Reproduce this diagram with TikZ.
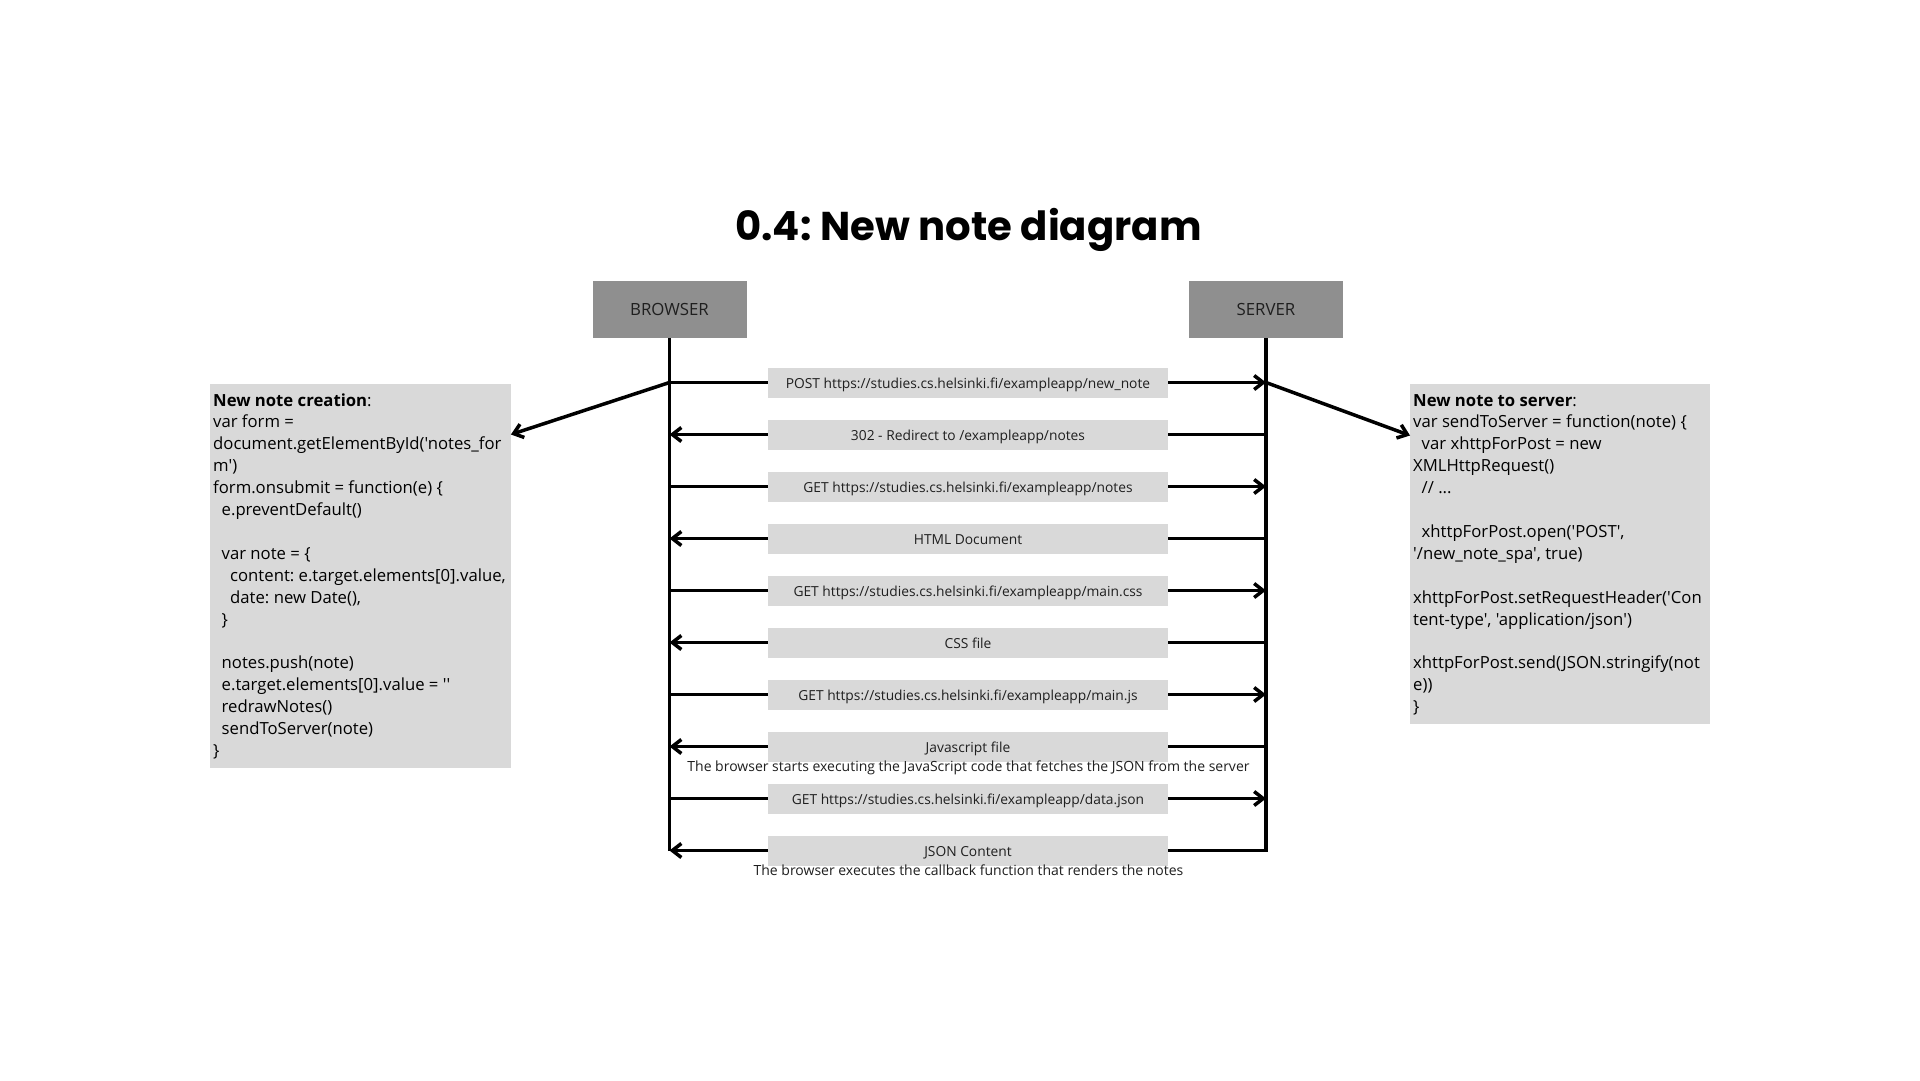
\documentclass[tikz,border=0pt]{standalone}
\usepackage{fontspec}
\setmainfont{Open Sans}[Ligatures=TeXOff]
\newfontfamily\titlefont{Poppins}
\usetikzlibrary{arrows.meta,calc}
\definecolor{hdr}{HTML}{8F8F8F}
\definecolor{lbl}{HTML}{D9D9D9}
\definecolor{txt}{HTML}{1F1F1F}
\frenchspacing
\begin{document}
\frenchspacing
\begin{tikzpicture}[x=1pt,y=-1pt,
  hdrbox/.style={fill=hdr, minimum width=154pt, minimum height=57pt, inner sep=0pt, text=txt, font=\fontsize{16.8}{19}\selectfont},
  lblbox/.style={fill=lbl, minimum width=400pt, minimum height=30pt, inner sep=0pt, text=txt, text height=14pt, text depth=2pt, font=\fontsize{13.8}{16}\selectfont},
  life/.style={line width=3.5pt, black},
  plain/.style={line width=3.5pt, black},
  msg/.style={line width=3.5pt, black, -{Straight Barb[length=9pt,width=14pt]}},
  codebox/.style={fill=lbl, anchor=north west, inner sep=0pt},
  codetext/.style={anchor=base west, inner sep=0pt, text=black, font=\fontsize{16.7}{21.9}\selectfont},
  notetext/.style={anchor=base, inner sep=0pt, text=txt, font=\fontsize{14}{16}\selectfont}
]
\useasboundingbox (0,0) rectangle (1920,1080);
\fill[white] (0,0) rectangle (1920,1080);

% title
\node[anchor=base, inner sep=0pt, text=black, font=\titlefont\fontsize{40.2}{46}\selectfont\bfseries] (title) at (968.5,240.7) {0.4: New note diagram};

% actors
\node[hdrbox] (B) at (669.5,309.3) {BROWSER};
\node[hdrbox] (S) at (1266,309.3) {SERVER};

% message labels
\node[lblbox] (m0) at (968,382.5) {POST https://studies.cs.helsinki.fi/exampleapp/new\_note};
\node[lblbox] (m1) at (968,434.5) {302 - Redirect to /exampleapp/notes};
\node[lblbox] (m2) at (968,486.5) {GET https://studies.cs.helsinki.fi/exampleapp/notes};
\node[lblbox] (m3) at (968,538.5) {HTML Document};
\node[lblbox] (m4) at (968,590.5) {GET https://studies.cs.helsinki.fi/exampleapp/main.css};
\node[lblbox] (m5) at (968,642.5) {CSS file};
\node[lblbox] (m6) at (968,694.5) {GET https://studies.cs.helsinki.fi/exampleapp/main.js};
\node[lblbox] (m7) at (968,746.5) {Javascript file};
\node[lblbox] (m8) at (968,798.5) {GET https://studies.cs.helsinki.fi/exampleapp/data.json};
\node[lblbox] (m9) at (968,850.5) {JSON Content};

% notes
\node[notetext] (n1) at (968.5,771) {The browser starts executing the JavaScript code that fetches the JSON from the server};
\node[notetext] (n2) at (968.5,875.5) {The browser executes the callback function that renders the notes};

% lifelines
\draw[life] (B.south) -- (m9 -| B);
\draw[life] (S.south) -- (m9 -| S) -- (m9.east);

% messages browser -> server
\foreach \m in {m0,m2,m4,m6,m8} {
  \draw[plain] (\m -| B) -- (\m.west);
  \draw[msg] (\m.east) -- (\m -| S);
}
% messages server -> browser
\foreach \m in {m1,m3,m5,m7} {
  \draw[plain] (\m -| S) -- (\m.east);
  \draw[msg] (\m.west) -- (\m -| B);
}
\draw[msg] (m9.west) -- (m9 -| B);

% code boxes
\node[codebox, minimum width=301pt, minimum height=384pt] (L) at (209.5,383.5) {};
\node[codebox, minimum width=300pt, minimum height=340pt] (R) at (1410,383.5) {};
\node[codetext] (Lt) at (213,406) {\begin{tabular}[t]{@{}l@{}}
\textbf{New note creation}:\\
var form =\\
document.getElementById('notes\_for\\
m')\\
form.onsubmit = function(e) \{\\
\hspace*{8.5pt}e.preventDefault()\\
\\
\hspace*{8.5pt}var note = \{\\
\hspace*{17pt}content: e.target.elements[0].value,\\
\hspace*{17pt}date: new Date(),\\
\hspace*{8.5pt}\}\\
\\
\hspace*{8.5pt}notes.push(note)\\
\hspace*{8.5pt}e.target.elements[0].value = ''\\
\hspace*{8.5pt}redrawNotes()\\
\hspace*{8.5pt}sendToServer(note)\\
\}
\end{tabular}};
\node[codetext] (Rt) at (1413,406) {\begin{tabular}[t]{@{}l@{}}
\textbf{New note to server}:\\
var sendToServer = function(note) \{\\
\hspace*{8.5pt}var xhttpForPost = new\\
XMLHttpRequest()\\
\hspace*{8.5pt}// ...\\
\\
\hspace*{8.5pt}xhttpForPost.open('POST',\\
'/new\_note\_spa', true)\\
\\
xhttpForPost.setRequestHeader('Con\\
tent-type', 'application/json')\\
\\
xhttpForPost.send(JSON.stringify(not\\
e))\\
\}
\end{tabular}};

% pointers to code
\draw[msg] (m0 -| B) -- ($(L.north east)+(0,51)$);
\draw[msg] (m0 -| S) -- ($(R.north west)+(0,52)$);
\end{tikzpicture}
\end{document}
